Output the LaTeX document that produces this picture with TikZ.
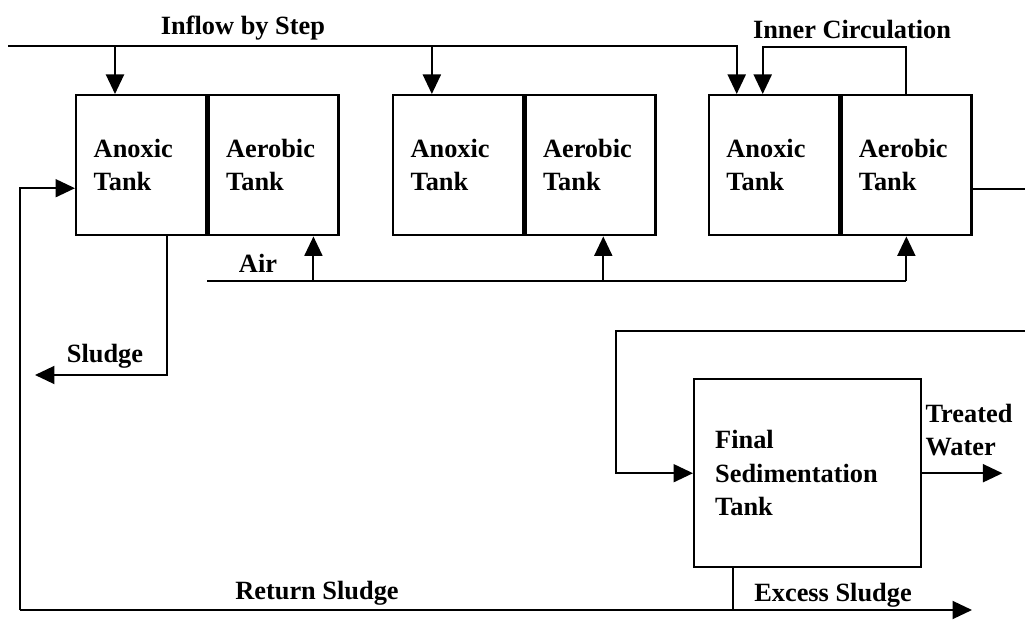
\documentclass[tikz,border=0pt]{standalone}
\usepackage{fontspec}
\setmainfont{Liberation Serif}
\usetikzlibrary{arrows.meta,positioning,calc}
\tikzset{
  tank/.style       = {draw, line width=1.4pt, minimum width=2.6cm, minimum height=2.8cm,
                       text width=1.9cm, inner sep=0pt, align=left},
  sig/.style        = {-{Triangle[length=3.9mm, width=3.6mm]}, line width=1.1pt},
  wire/.style       = {line width=1.1pt},
  every node/.style = {font=\fontsize{15}{19}\selectfont\bfseries},
  lbl/.style        = {inner sep=1pt},
}
\begin{document}
\begin{tikzpicture}[x=0.02cm, y=-0.02cm]
  \useasboundingbox (0,0) rectangle (1025,621);
  \node[tank, anchor=north west] (an1) at (75,94) {Anoxic\\Tank};
  \node[tank, right=0pt of an1] (ae1) {Aerobic\\Tank};
  \node[tank, right=1.04cm of ae1] (an2) {Anoxic\\Tank};
  \node[tank, right=0pt of an2] (ae2) {Aerobic\\Tank};
  \node[tank, right=1.02cm of ae2] (an3) {Anoxic\\Tank};
  \node[tank, right=0pt of an3] (ae3) {Aerobic\\Tank};
  \node[tank, anchor=north west, minimum width=4.54cm, minimum height=3.76cm, text width=3.7cm] (sed) at (693,378) {Final\\Sedimentation\\Tank};
  \coordinate (in) at (8,46);
  \coordinate (air) at (207,281);
  \coordinate (sl) at (35,375);
  \coordinate (rs) at (20,610);
  \coordinate (ex) at (972,610);
  \coordinate (se) at (1025,331);
  \coordinate (f1) at ($(an1.north west)+(40,0)$);
  \coordinate (f2) at ($(an2.north west)+(40,0)$);
  \coordinate (a1) at ($(ae1.south west)+(106,0)$);
  \coordinate (a2) at ($(ae2.south west)+(79,0)$);
  \coordinate (xs) at ($(sed.south west)+(40,0)$);
  \draw[sig] (in) -| ($(an3.north west)+(29,0)$);
  \draw[sig] (f1 |- in) -- (f1);
  \draw[sig] (f2 |- in) -- (f2);
  \draw[sig] (ae3.north) -- ++(0,-47) -| ($(an3.north west)+(55,0)$);
  \draw[wire] ($(ae3.east)+(0,24)$) -- ++(52,0);
  \draw[wire] (air) -- (air -| ae3.south);
  \draw[sig] (air -| a1) -- (a1);
  \draw[sig] (air -| a2) -- (a2);
  \draw[sig] (air -| ae3.south) -- (ae3.south);
  \draw[sig] ($(an1.south west)+(92,0)$) |- (sl);
  \draw[sig] (rs) |- ($(an1.west)+(0,23)$);
  \draw[sig] (rs) -- (ex);
  \draw[wire] (xs) -- (xs |- rs);
  \draw[sig] (se) -| ($(sed.west)+(-77,0)$) -- (sed.west);
  \draw[sig] (sed.east) -- ++(80,0);
  \node[lbl] (lin) at (243,28) {Inflow by Step};
  \node[lbl] (lic) at (852,30) {Inner Circulation};
  \node[lbl] (lair) at (258,263) {Air};
  \node[lbl] (lsl) at (105,356) {Sludge};
  \node[lbl] (lrs) at (317,593) {Return Sludge};
  \node[lbl] (lex) at (833,595) {Excess Sludge};
  \node[lbl, align=left] (ltw) at (969,430) {Treated\\Water};
\end{tikzpicture}
\end{document}
